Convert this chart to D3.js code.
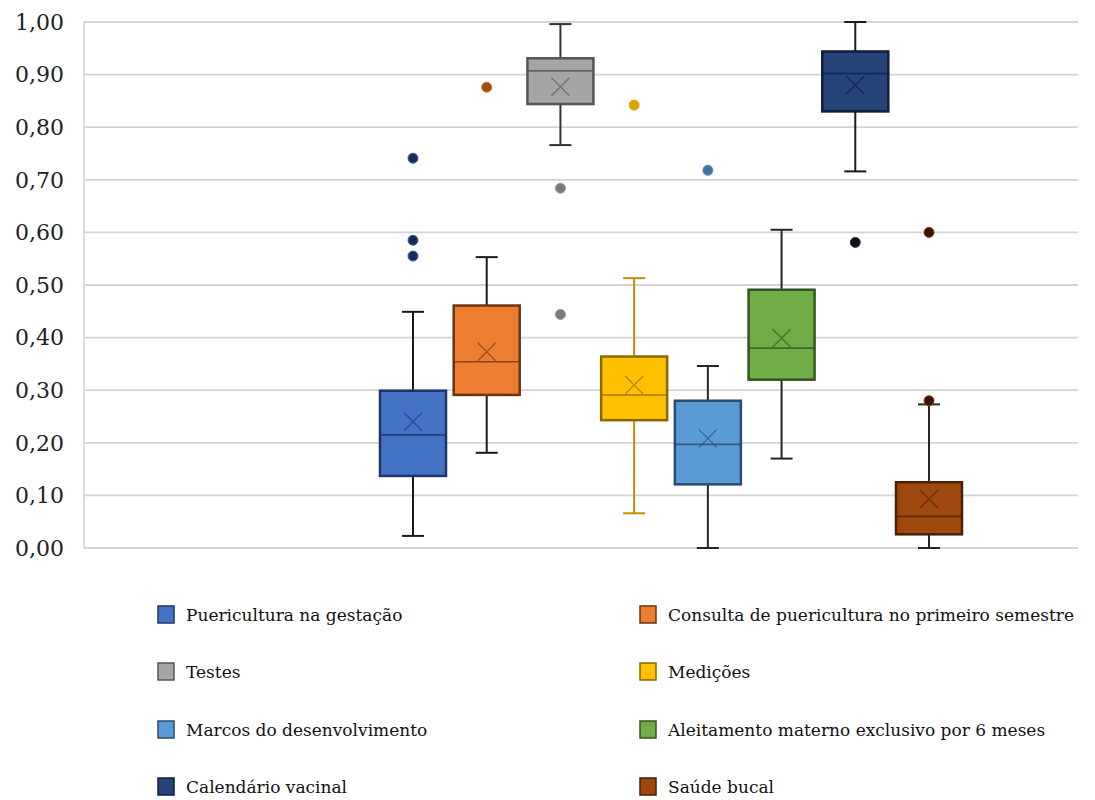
<!DOCTYPE html>
<html>
<head>
<meta charset="utf-8">
<script src="https://cdn.jsdelivr.net/npm/d3@7/dist/d3.min.js"></script>
<style>
  body { margin: 0; background: #fff; }
  svg { display: block; }
</style>
</head>
<body>
<div id="chart"></div>
<script>
// Box plot of indicator scores per series (Excel-style box & whisker)
const seriesNames = [
  'Puericultura na gestação',
  'Consulta de puericultura no primeiro semestre',
  'Testes',
  'Medições',
  'Marcos do desenvolvimento',
  'Aleitamento materno exclusivo por 6 meses',
  'Calendário vacinal',
  'Saúde bucal'
];
const fillColors = ['#4472C4', '#ED7D31', '#A5A5A5', '#FFC000', '#5B9BD5', '#70AD47', '#264478', '#9E480E'];
const strokeColors = ['#1f3466', '#6b3512', '#555555', '#8a6a00', '#2a4c6e', '#345423', '#0f1e3d', '#4a1f05'];
const whiskerColors = ['#1a1a1a', '#1a1a1a', '#333333', '#bf9000', '#262626', '#262626', '#1a1a1a', '#262626'];
const outlierColors = ['#1b2a55', '#9c4d14', '#7a7a7a', '#d9a400', '#3f74a3', '#345423', '#111111', '#3b1006'];

const whiskerLow  = [0.023, 0.181, 0.766, 0.066, 0.000, 0.170, 0.716, 0.000];
const q1Values    = [0.137, 0.291, 0.844, 0.243, 0.121, 0.320, 0.830, 0.026];
const medians     = [0.215, 0.354, 0.907, 0.291, 0.197, 0.380, 0.902, 0.060];
const q3Values    = [0.299, 0.461, 0.931, 0.364, 0.280, 0.491, 0.944, 0.125];
const whiskerHigh = [0.449, 0.553, 0.996, 0.513, 0.346, 0.605, 1.000, 0.273];
const means       = [0.240, 0.373, 0.877, 0.310, 0.208, 0.399, 0.880, 0.093];
const outliers = [
  [0.741, 0.585, 0.555],
  [0.876],
  [0.684, 0.444],
  [0.842],
  [0.718],
  [],
  [0.581],
  [0.600, 0.280]
];
const yTicks = [0, 0.1, 0.2, 0.3, 0.4, 0.5, 0.6, 0.7, 0.8, 0.9, 1.0];

const width = 1095, height = 800;
const plot = { left: 84, right: 1078, top: 22, bottom: 548 };
const boxWidth = 66;

const svg = d3.select('#chart').append('svg')
  .attr('width', width)
  .attr('height', height);

const y = d3.scaleLinear().domain([0, 1]).range([plot.bottom, plot.top]);
const x = d3.scalePoint().domain(seriesNames).range([413, 929]);

// Gridlines
svg.append('g')
  .selectAll('line')
  .data(yTicks)
  .join('line')
  .attr('x1', plot.left)
  .attr('x2', plot.right)
  .attr('y1', d => y(d))
  .attr('y2', d => y(d))
  .attr('stroke', '#d4d4d4')
  .attr('stroke-width', 1.8);

svg.append('line')
  .attr('x1', plot.left).attr('x2', plot.left)
  .attr('y1', plot.top).attr('y2', plot.bottom)
  .attr('stroke', '#cfcfcf')
  .attr('stroke-width', 1.5);

// Y axis labels
const fmt = d => d.toFixed(2).replace('.', ',');
svg.append('g')
  .selectAll('text')
  .data(yTicks)
  .join('text')
  .attr('x', 64)
  .attr('y', d => y(d))
  .attr('dy', '0.35em')
  .attr('text-anchor', 'end')
  .style('font-family', '"DejaVu Serif", serif')
  .style('font-size', '22px')
  .style('fill', '#222')
  .text(fmt);

// Boxes
const rows = seriesNames.map((name, i) => ({
  name, i,
  lo: whiskerLow[i], q1: q1Values[i], med: medians[i], q3: q3Values[i], hi: whiskerHigh[i], mean: means[i],
  outliers: outliers[i]
}));

const boxes = svg.append('g')
  .selectAll('g.box')
  .data(rows)
  .join('g')
  .attr('class', 'box')
  .attr('transform', d => `translate(${x(d.name)},0)`);

// whiskers
boxes.append('line')
  .attr('x1', 0).attr('x2', 0)
  .attr('y1', d => y(d.hi)).attr('y2', d => y(d.q3))
  .attr('stroke', d => whiskerColors[d.i]).attr('stroke-width', 2);
boxes.append('line')
  .attr('x1', 0).attr('x2', 0)
  .attr('y1', d => y(d.q1)).attr('y2', d => y(d.lo))
  .attr('stroke', d => whiskerColors[d.i]).attr('stroke-width', 2);
boxes.append('line')
  .attr('x1', -11).attr('x2', 11)
  .attr('y1', d => y(d.hi)).attr('y2', d => y(d.hi))
  .attr('stroke', d => whiskerColors[d.i]).attr('stroke-width', 2);
boxes.append('line')
  .attr('x1', -11).attr('x2', 11)
  .attr('y1', d => y(d.lo)).attr('y2', d => y(d.lo))
  .attr('stroke', d => whiskerColors[d.i]).attr('stroke-width', 2);

// box
boxes.append('rect')
  .attr('x', -boxWidth / 2)
  .attr('width', boxWidth)
  .attr('y', d => y(d.q3))
  .attr('height', d => y(d.q1) - y(d.q3))
  .attr('fill', d => fillColors[d.i])
  .attr('stroke', d => strokeColors[d.i])
  .attr('stroke-width', 2.5);

// median
boxes.append('line')
  .attr('x1', -boxWidth / 2).attr('x2', boxWidth / 2)
  .attr('y1', d => y(d.med)).attr('y2', d => y(d.med))
  .attr('stroke', d => strokeColors[d.i])
  .attr('stroke-width', 1.6)
  .attr('opacity', 0.8);

// mean marker (X)
const xs = 9;
boxes.append('path')
  .attr('d', d => {
    const cy = y(d.mean);
    return `M${-xs},${cy - xs}L${xs},${cy + xs}M${-xs},${cy + xs}L${xs},${cy - xs}`;
  })
  .attr('stroke', d => strokeColors[d.i])
  .attr('stroke-width', 1.5)
  .attr('opacity', 0.6)
  .attr('fill', 'none');

// outliers
boxes.selectAll('circle')
  .data(d => d.outliers.map(v => ({ v, i: d.i })))
  .join('circle')
  .attr('cx', 0)
  .attr('cy', d => y(d.v))
  .attr('r', 5)
  .attr('fill', d => outlierColors[d.i])
  .attr('stroke', d => d3.color(fillColors[d.i]).darker(0.3))
  .attr('stroke-width', 1);

// Legend
const legendCols = [158, 640];
const legendRows = [614, 671, 729, 786];
const legend = svg.append('g')
  .selectAll('g')
  .data(rows)
  .join('g')
  .attr('transform', d => `translate(${legendCols[d.i % 2]},${legendRows[Math.floor(d.i / 2)]})`);

legend.append('rect')
  .attr('x', 0).attr('y', -8)
  .attr('width', 16).attr('height', 17)
  .attr('fill', d => fillColors[d.i])
  .attr('stroke', d => strokeColors[d.i])
  .attr('stroke-width', 1.5);

legend.append('text')
  .attr('x', 28)
  .attr('y', 1)
  .attr('dy', '0.35em')
  .style('font-family', '"DejaVu Serif", serif')
  .style('font-size', '17px')
  .style('fill', '#111')
  .text(d => d.name);
</script>
</body>
</html>
